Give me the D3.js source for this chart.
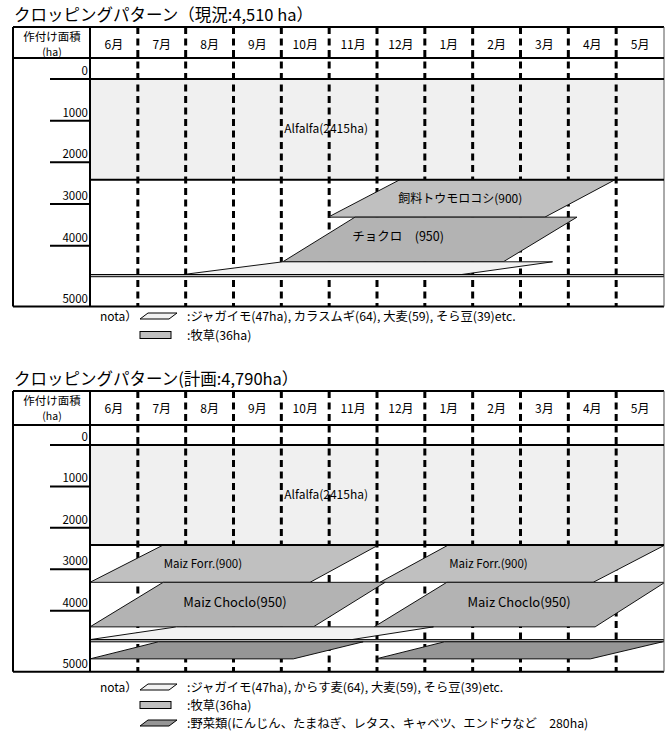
<!DOCTYPE html>
<html>
<head>
<meta charset="utf-8">
<script src="https://cdn.jsdelivr.net/npm/d3@7"></script>
<style>
  body { margin: 0; background: #fff; }
  svg { display: block; }
  text { font-family: "Noto Sans CJK JP", "Noto Sans", sans-serif; fill: #000; }
</style>
</head>
<body>
<svg id="chart" width="665" height="733"></svg>
<script>
// ---- data ----
const months = ["6月", "7月", "8月", "9月", "10月", "11月", "12月", "1月", "2月", "3月", "4月", "5月"];
const areaTicks = [0, 1000, 2000, 3000, 4000, 5000];

// current cropping pattern (stacked areas in ha; seasons in months from 1 June)
const currentTitle = "クロッピングパターン（現況:4,510 ha）";
const currentCrops = ["Alfalfa", "飼料トウモロコシ", "チョクロ", "畑作物", "牧草"];
const currentArea = [2415, 900, 950, 209, 36];
const currentSeasons = [
  [{ top: [0, 12], bottom: [0, 12] }],
  [{ top: [6.48, 10.98], bottom: [4.98, 9.51] }],
  [{ top: [5.54, 10.18], bottom: [4.03, 8.64] }],
  [{ top: [4.03, 9.67], bottom: [1.95, 7.77] }],
  [{ top: [0, 12], bottom: [0, 12] }]
];
const currentLabels = ["Alfalfa(2415ha)", "飼料トウモロコシ(900)", "チョクロ　(950)", "", ""];
const currentNotes = [":ジャガイモ(47ha), カラスムギ(64), 大麦(59), そら豆(39)etc.", ":牧草(36ha)"];
const currentNoteCrops = ["畑作物", "牧草"];

// planned cropping pattern
const planTitle = "クロッピングパターン(計画:4,790ha）";
const planCrops = ["Alfalfa", "Maiz Forr.", "Maiz Choclo", "畑作物", "牧草", "野菜類"];
const planArea = [2415, 900, 950, 209, 36, 280];
const planSeasons = [
  [{ top: [0, 12], bottom: [0, 12] }],
  [{ top: [1.53, 6.03], bottom: [0, 4.6] }, { top: [7.49, 12.02], bottom: [6.06, 10.52] }],
  [{ top: [1.53, 6.17], bottom: [0, 4.67] }, { top: [7.46, 12.02], bottom: [5.94, 10.56] }],
  [{ top: [1.81, 7.18], bottom: [0, 5.47] }],
  [{ top: [0, 12], bottom: [0, 12] }],
  [{ top: [1.43, 5.71], bottom: [0, 4.25] }, { top: [7.41, 11.97], bottom: [5.98, 10.46] }]
];
const planLabels = ["Alfalfa(2415ha)", "Maiz Forr.(900)", "Maiz Choclo(950)", "", "", ""];
const planNotes = [":ジャガイモ(47ha), からす麦(64), 大麦(59), そら豆(39)etc.", ":牧草(36ha)",
  ":野菜類(にんじん、たまねぎ、レタス、キャベツ、エンドウなど　280ha)"];
const planNoteCrops = ["畑作物", "牧草", "野菜類"];

// ---- styling ----
const fills = {
  "Alfalfa": "#f0f0f0", "飼料トウモロコシ": "#c0c0c0", "チョクロ": "#b3b3b3",
  "畑作物": "#f2f2f2", "牧草": "#c0c0c0", "Maiz Forr.": "#c0c0c0",
  "Maiz Choclo": "#b3b3b3", "野菜類": "#969696"
};
// label anchor (month position of label centre) per season
const labelAt = {
  "飼料トウモロコシ": [7.74], "チョクロ": [6.44],
  "Maiz Forr.": [2.36, 8.33], "Maiz Choclo": [3.03, 8.97]
};
const labelSize = {
  "Alfalfa": 12, "飼料トウモロコシ": 12, "チョクロ": 12.5, "Maiz Forr.": 11.5, "Maiz Choclo": 13
};

const svg = d3.select("#chart");
const X0 = 90, X1 = 664, LEFT = 13, TICK_LEFT = 50;

function drawChart(cfg) {
  const g = svg.append("g");
  const x = d3.scaleLinear().domain([0, 12]).range([X0, X1]);
  const y = d3.scaleLinear().domain([0, 4000, 5000]).range([cfg.zero, cfg.y4000, cfg.bottom]);

  const clipId = "clip" + cfg.id;
  g.append("clipPath").attr("id", clipId)
    .append("rect").attr("x", X0).attr("y", cfg.zero).attr("width", X1 - X0).attr("height", cfg.bottom - cfg.zero);

  // stack crop areas
  const stack = [];
  let acc = 0;
  cfg.crops.forEach((c, i) => {
    stack.push({ name: c, y0: acc, y1: acc + cfg.area[i], seasons: cfg.seasons[i], label: cfg.labels[i] });
    acc += cfg.area[i];
  });

  const isFull = s => s.seasons.length === 1 && s.seasons[0].top[0] === 0 && s.seasons[0].top[1] === 12 &&
    s.seasons[0].bottom[0] === 0 && s.seasons[0].bottom[1] === 12;

  // first band (Alfalfa) background
  const base = stack[0];
  g.append("rect").attr("x", X0).attr("y", y(base.y0)).attr("width", X1 - X0)
    .attr("height", y(base.y1) - y(base.y0)).attr("fill", fills[base.name]);

  // month boundaries (dashed)
  g.append("g").selectAll("line").data(d3.range(1, 12)).join("line")
    .attr("x1", d => x(d)).attr("x2", d => x(d))
    .attr("y1", cfg.top).attr("y2", cfg.bottom)
    .attr("stroke", "#000").attr("stroke-width", 3).attr("stroke-dasharray", "7,4.5");

  // remaining bands
  const plot = g.append("g").attr("clip-path", `url(#${clipId})`);
  stack.slice(1).forEach(s => {
    if (isFull(s)) {
      plot.append("rect").attr("x", X0).attr("y", y(s.y0)).attr("width", X1 - X0)
        .attr("height", y(s.y1) - y(s.y0)).attr("fill", fills[s.name])
        .attr("stroke", "#000").attr("stroke-width", 1);
    } else {
      s.seasons.forEach(w => {
        const pts = [[x(w.top[0]), y(s.y0)], [x(w.top[1]), y(s.y0)], [x(w.bottom[1]), y(s.y1)], [x(w.bottom[0]), y(s.y1)]];
        plot.append("polygon").attr("points", pts.map(p => p.join(",")).join(" "))
          .attr("fill", fills[s.name]).attr("stroke", "#111").attr("stroke-width", 1);
      });
    }
  });

  // table frame
  const line = (x1, y1, x2, y2, w, c) => g.append("line").attr("x1", x1).attr("y1", y1).attr("x2", x2).attr("y2", y2)
    .attr("stroke", c || "#000").attr("stroke-width", w);
  line(LEFT, cfg.top, X1, cfg.top, 2);
  line(LEFT, cfg.bottom, X1, cfg.bottom, 2);
  line(LEFT, cfg.top, LEFT, cfg.bottom, 2);
  line(X1, cfg.top, X1, cfg.bottom, 1, "#555");
  line(X0, cfg.top, X0, cfg.bottom, 2);
  line(LEFT, cfg.head, X1, cfg.head, 2);
  line(X0, y(base.y1), X1, y(base.y1), 2);
  areaTicks.filter(t => t < 5000).forEach(t => line(TICK_LEFT, y(t), t === 0 ? X1 : X0, y(t), 2));

  // header
  g.append("text").attr("x", 52).attr("y", cfg.top + 13.5).attr("text-anchor", "middle")
    .attr("font-size", 11.5).text("作付け面積");
  g.append("text").attr("x", 52).attr("y", cfg.top + 28.5).attr("text-anchor", "middle")
    .attr("font-size", 10.5).text("(ha)");
  g.append("g").selectAll("text").data(months).join("text")
    .attr("x", (d, i) => x(i + 0.5)).attr("y", cfg.top + 21.5).attr("text-anchor", "middle")
    .attr("font-size", 12).text(d => d);

  // area tick labels
  g.append("g").selectAll("text").data(areaTicks).join("text")
    .attr("x", 88).attr("y", d => y(d) - 4).attr("text-anchor", "end")
    .attr("font-size", 11.5).text(d => d);

  // title
  g.append("text").attr("x", 14).attr("y", cfg.top - 6).attr("font-size", 16.5).text(cfg.title);

  // band labels
  g.append("text").attr("x", x(4) + 3).attr("y", y((base.y0 + base.y1) / 2) + 4)
    .attr("font-size", labelSize[base.name]).text(base.label);
  stack.slice(1).forEach(s => {
    if (!s.label) return;
    labelAt[s.name].forEach(m => {
      g.append("text").attr("x", x(m)).attr("y", y((s.y0 + s.y1) / 2) + 4.5).attr("text-anchor", "middle")
        .attr("font-size", labelSize[s.name]).text(s.label);
    });
  });

  // notes
  cfg.notes.forEach((t, i) => {
    const cy = cfg.legendY[i];
    if (i === 0) g.append("text").attr("x", 100).attr("y", cy + 4.5).attr("font-size", 12).text("nota）");
    const crop = cfg.noteCrops[i];
    const sIdx = cfg.crops.indexOf(crop);
    if (isFull(stack[sIdx])) {
      g.append("rect").attr("x", 140).attr("y", cy - 3.5).attr("width", 31).attr("height", 7)
        .attr("fill", fills[crop]).attr("stroke", "#000").attr("stroke-width", 1);
    } else {
      g.append("polygon").attr("points", [[140, cy + 3], [148, cy - 3], [177, cy - 3], [169, cy + 3]].map(p => p.join(",")).join(" "))
        .attr("fill", fills[crop]).attr("stroke", "#000").attr("stroke-width", 1);
    }
    g.append("text").attr("x", 187).attr("y", cy + 4.5).attr("font-size", 12.3).text(t);
  });
}

drawChart({
  id: 1, title: currentTitle, crops: currentCrops, area: currentArea, seasons: currentSeasons,
  labels: currentLabels, notes: currentNotes, noteCrops: currentNoteCrops,
  top: 27, head: 58, zero: 79, y4000: 245.7, bottom: 306.5, legendY: [316, 335]
});
drawChart({
  id: 2, title: planTitle, crops: planCrops, area: planArea, seasons: planSeasons,
  labels: planLabels, notes: planNotes, noteCrops: planNoteCrops,
  top: 391, head: 425, zero: 445, y4000: 610.7, bottom: 671.7, legendY: [687, 705, 723]
});
</script>
</body>
</html>
